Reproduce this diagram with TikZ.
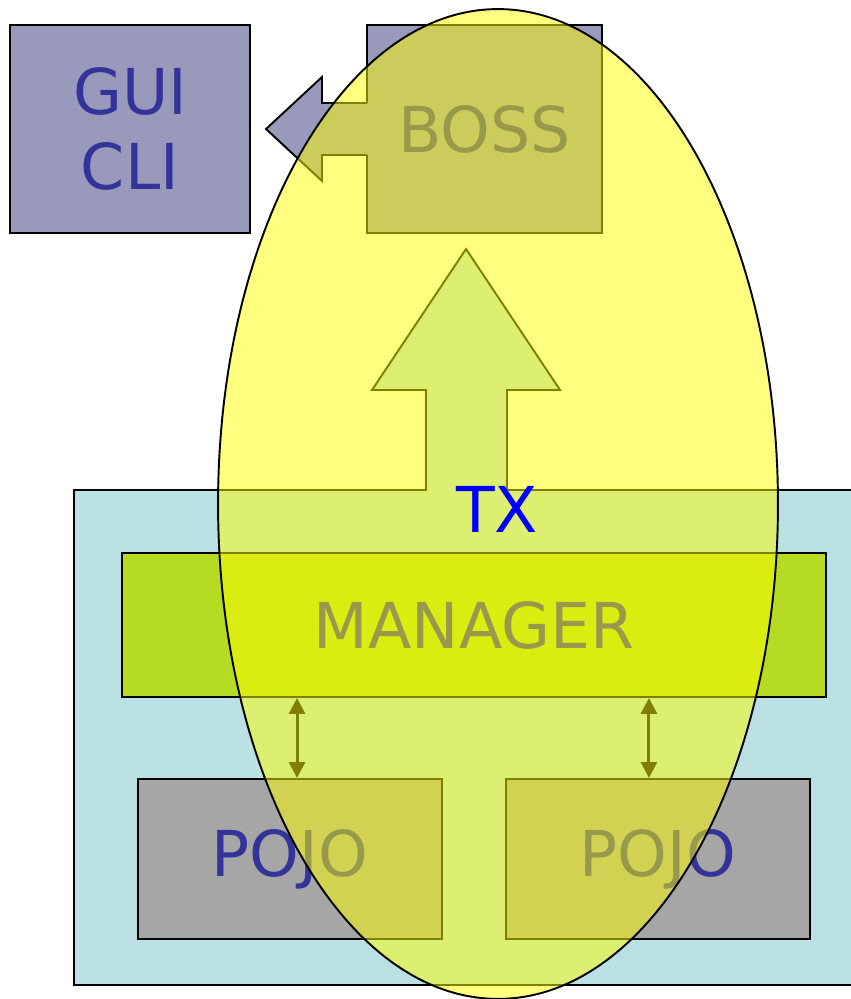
\documentclass[tikz,border=0pt]{standalone}
\usepackage{fontspec}
\setmainfont{DejaVu Sans}
\usetikzlibrary{shapes.geometric,arrows.meta,positioning}
\definecolor{bossPurple}{HTML}{9999BB}
\definecolor{labelBlue}{HTML}{333399}
\definecolor{poolCyan}{HTML}{BBE0E3}
\definecolor{managerGreen}{HTML}{B5DC22}
\definecolor{pojoGray}{HTML}{A6A6A6}
\definecolor{txYellow}{HTML}{FFFF00}
\definecolor{txBlue}{HTML}{0000FF}

\begin{document}
\begin{tikzpicture}[
            x=0.02cm, y=-0.02cm,
            box/.style={
                    rectangle,
                    draw=black,
                    line width=1.1pt,
                    inner sep=0pt,
                    align=center,
                    text=labelBlue,
                    font=\fontsize{36}{43}\selectfont
                },
            clientbox/.style={
                    box,
                    fill=bossPurple,
                    minimum height=4.16cm
                },
            managerbox/.style={
                    box,
                    fill=managerGreen,
                    minimum width=14.08cm,
                    minimum height=2.88cm
                },
            pojobox/.style={
                    box,
                    fill=pojoGray,
                    minimum width=6.08cm,
                    minimum height=3.2cm
                },
            pool/.style={
                    draw=black,
                    line width=1.1pt,
                    fill=poolCyan
                },
            link/.style={
                    {Triangle[width=9pt,length=9pt]}-{Triangle[width=9pt,length=9pt]},
                    line width=1.7pt
                },
            txzone/.style={
                    ellipse,
                    draw=black,
                    line width=1.1pt,
                    fill=txYellow,
                    fill opacity=0.5,
                    inner sep=0pt,
                    minimum width=11.2cm,
                    minimum height=19.8cm
                }
        ]
        \useasboundingbox (0,0) rectangle (850,999);

        % Container with the arrow up to BOSS
        \draw[pool] (74,490) -- (426,490) -- (426,390) -- (372,390) -- (466,249)
            -- (560,390) -- (507,390) -- (507,490) -- (870,490)
            -- (870,985) -- (74,985) -- cycle;

        % Clients
        \node[clientbox, minimum width=4.8cm] (gui) at (130,129) {GUI\\CLI};
        \node[clientbox, minimum width=4.7cm] (boss) at (484.5,129) {BOSS};

        % Arrow from BOSS to the clients
        \fill[bossPurple] (369,103) -- (322,103) -- (322,77) -- (266,129)
            -- (322,181) -- (322,155) -- (369,155) -- cycle;
        \draw[line width=1.1pt] (367,103) -- (322,103) -- (322,77) -- (266,129)
            -- (322,181) -- (322,155) -- (367,155);

        % Manager and POJOs
        \node[managerbox] (manager) at (474,625) {MANAGER};

        \node[pojobox, below right=1.6cm and 0.32cm of manager.south west] (pojoLeft) {POJO};
        \node[pojobox, below left=1.6cm and 0.32cm of manager.south east] (pojoRight) {POJO};

        \draw[link] ([xshift=0.14cm]pojoLeft.north) -- ([xshift=0.14cm]pojoLeft.north |- manager.south);
        \draw[link] ([xshift=-0.18cm]pojoRight.north) -- ([xshift=-0.18cm]pojoRight.north |- manager.south);

        % Transaction
        \node[txzone] (txZone) at (498,504) {};
        \node[text=txBlue, font=\fontsize{36}{43}\selectfont] (tx) at (497,509) {TX};

    \end{tikzpicture}
\end{document}
